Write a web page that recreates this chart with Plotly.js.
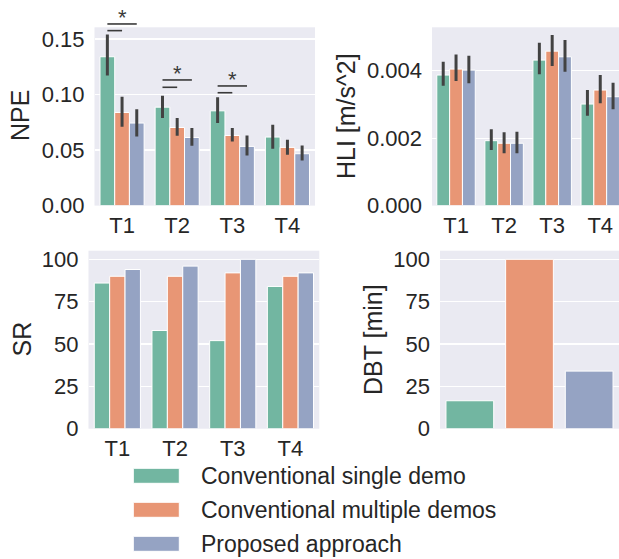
<!DOCTYPE html>
<html><head><meta charset="utf-8">
<script src="https://cdn.plot.ly/plotly-3.0.1.min.js"></script>
<style>html,body{margin:0;padding:0;background:#fff;overflow:hidden}</style>
</head><body><div id="chart" style="width:619px;height:559px"></div>
<script>
// ---------------- data ----------------
const tasks = ['T1', 'T2', 'T3', 'T4'];
const methods = ['Conventional single demo', 'Conventional multiple demos', 'Proposed approach'];

// NPE (mean, CI upper, CI lower)
const npeSingle      = [0.134, 0.0886, 0.0853, 0.0617];
const npeSingleHi    = [0.154, 0.0988, 0.0976, 0.0727];
const npeSingleLo    = [0.117, 0.0788, 0.0743, 0.0512];
const npeMultiple    = [0.0838, 0.0703, 0.0631, 0.0524];
const npeMultipleHi  = [0.098, 0.0788, 0.0698, 0.0593];
const npeMultipleLo  = [0.071, 0.0629, 0.0578, 0.0458];
const npeProposed    = [0.0743, 0.0613, 0.0533, 0.0467];
const npeProposedHi  = [0.0868, 0.0698, 0.0631, 0.0541];
const npeProposedLo  = [0.0622, 0.0539, 0.0452, 0.0407];

// HLI [m/s^2]
const hliSingle      = [0.003873, 0.001926, 0.004317, 0.003013];
const hliSingleHi    = [0.004267, 0.002264, 0.00483, 0.003428];
const hliSingleLo    = [0.003556, 0.00165, 0.0039, 0.002667];
const hliMultiple    = [0.00405, 0.001849, 0.004583, 0.003428];
const hliMultipleHi  = [0.004486, 0.002175, 0.005058, 0.003873];
const hliMultipleLo  = [0.003695, 0.001553, 0.00414, 0.003034];
const hliProposed    = [0.00402, 0.00185, 0.004415, 0.00323];
const hliProposedHi  = [0.004444, 0.002193, 0.00491, 0.003644];
const hliProposedLo  = [0.003627, 0.001553, 0.00397, 0.002856];

// SR
const srSingle   = [86, 58, 52, 84];
const srMultiple = [90, 90, 92, 90];
const srProposed = [94, 96, 100, 92];

// DBT [min]
const dbt = [16.5, 100, 34];

// significance brackets on NPE (task, short line level, long line level)
const sigTasks  = ['T1', 'T2', 'T3'];
const sigShortY = [0.1575, 0.1065, 0.1016];
const sigLongY  = [0.1635, 0.1131, 0.1077];
const sigLabel  = '*';

// ---------------- styles ----------------
const colors = ['#72b6a1', '#e89675', '#95a3c3'];
const errColor = '#424242';
const textColor = '#262626';
const W = 619, H = 559;
const px = v => v / W;
const py = v => 1 - v / H;

const dom = {
  x1: [px(94.5), px(315)],  y1: [py(205.6), py(27.3)],
  x2: [px(432), 1],         y2: [py(205.6), py(27.3)],
  x3: [px(88.5), px(319.3)], y3: [py(428.7), py(250.7)],
  x4: [px(440), 1],         y4: [py(428.7), py(250.7)]
};
const npeRange = [0, 0.1605];
const hliRange = [0, 0.00529];
const srRange = [0, 105.1];

function errs(mean, hi, lo) {
  return {
    type: 'data', symmetric: false,
    array: mean.map((m, i) => hi[i] - m),
    arrayminus: mean.map((m, i) => m - lo[i]),
    width: 0, thickness: 3, color: errColor
  };
}
function barTrace(y, k, xa, ya, err) {
  const t = {
    type: 'bar', x: tasks, y: y, name: methods[k],
    xaxis: xa, yaxis: ya, showlegend: false,
    marker: {color: colors[k], line: {color: '#ffffff', width: 1}},
    hoverinfo: 'skip'
  };
  if (err) t.error_y = err;
  return t;
}

const traces = [
  barTrace(npeSingle, 0, 'x', 'y', errs(npeSingle, npeSingleHi, npeSingleLo)),
  barTrace(npeMultiple, 1, 'x', 'y', errs(npeMultiple, npeMultipleHi, npeMultipleLo)),
  barTrace(npeProposed, 2, 'x', 'y', errs(npeProposed, npeProposedHi, npeProposedLo)),
  barTrace(hliSingle, 0, 'x2', 'y2', errs(hliSingle, hliSingleHi, hliSingleLo)),
  barTrace(hliMultiple, 1, 'x2', 'y2', errs(hliMultiple, hliMultipleHi, hliMultipleLo)),
  barTrace(hliProposed, 2, 'x2', 'y2', errs(hliProposed, hliProposedHi, hliProposedLo)),
  barTrace(srSingle, 0, 'x3', 'y3'),
  barTrace(srMultiple, 1, 'x3', 'y3'),
  barTrace(srProposed, 2, 'x3', 'y3'),
  {
    type: 'bar', x: methods, y: dbt, xaxis: 'x4', yaxis: 'y4', showlegend: false,
    marker: {color: colors, line: {color: '#ffffff', width: 1}}, hoverinfo: 'skip'
  }
];

const tickFont = {family: 'Liberation Sans, Arial, sans-serif', size: 22, color: textColor};
function xAx(domain, range, showLabels) {
  return {
    domain: domain, type: 'category', range: range,
    showgrid: false, zeroline: false, showline: false, ticks: '',
    showticklabels: showLabels, tickfont: tickFont, ticklabelstandoff: 4, fixedrange: true
  };
}
function yAx(domain, range, tickvals, fmt) {
  return {
    domain: domain, range: range, tickvals: tickvals, tickformat: fmt,
    showgrid: true, gridcolor: '#ffffff', gridwidth: 1.3, zeroline: false, showline: false,
    ticks: '', tickfont: tickFont, ticklabelstandoff: 9, fixedrange: true
  };
}

const layout = {
  width: W, height: H,
  margin: {l: 0, r: 0, t: 0, b: 0},
  paper_bgcolor: '#ffffff', plot_bgcolor: '#eaeaf2',
  font: {family: 'Liberation Sans, Arial, sans-serif', color: textColor},
  barmode: 'group', bargap: 0.2, bargroupgap: 0,
  xaxis:  Object.assign(xAx(dom.x1, [-0.5, 3.5], true), {anchor: 'y'}),
  yaxis:  Object.assign(yAx(dom.y1, npeRange, [0, 0.05, 0.1, 0.15], '.2f'), {anchor: 'x'}),
  xaxis2: Object.assign(xAx(dom.x2, [-0.5, 3.39], true), {anchor: 'y2'}),
  yaxis2: Object.assign(yAx(dom.y2, hliRange, [0, 0.002, 0.004], '.3f'), {anchor: 'x2'}),
  xaxis3: Object.assign(xAx(dom.x3, [-0.5, 3.5], true), {anchor: 'y3'}),
  yaxis3: Object.assign(yAx(dom.y3, srRange, [0, 25, 50, 75, 100], 'd'), {anchor: 'x3'}),
  xaxis4: Object.assign(xAx(dom.x4, [-0.5, 2.5], false), {anchor: 'y4'}),
  yaxis4: Object.assign(yAx(dom.y4, srRange, [0, 25, 50, 75, 100], 'd'), {anchor: 'x4'}),
  shapes: [], annotations: []
};

// axis titles
const titleFont = {family: 'Liberation Sans, Arial, sans-serif', size: 25, color: textColor};
[['NPE', 20, 116], ['HLI [m/s^2]', 346, 116], ['SR', 21, 339.5], ['DBT [min]', 372.5, 339.5]]
  .forEach(([t, x, y]) => layout.annotations.push({
    text: t, xref: 'paper', yref: 'paper', x: px(x), y: py(y),
    xanchor: 'center', yanchor: 'middle', textangle: -90, showarrow: false, font: titleFont
  }));

// significance brackets (converted from NPE data values to paper coords)
const barW = 0.8 / 3;
const npeX = v => dom.x1[0] + (v + 0.5) / 4 * (dom.x1[1] - dom.x1[0]);
const npeY = v => dom.y1[0] + (v - npeRange[0]) / (npeRange[1] - npeRange[0]) * (dom.y1[1] - dom.y1[0]);
sigTasks.forEach((t, i) => {
  const c = tasks.indexOf(t);
  const line = {type: 'line', xref: 'paper', yref: 'paper', line: {color: '#3a3a3a', width: 1.6}};
  layout.shapes.push(Object.assign({}, line, {x0: npeX(c - barW), x1: npeX(c), y0: npeY(sigShortY[i]), y1: npeY(sigShortY[i])}));
  layout.shapes.push(Object.assign({}, line, {x0: npeX(c - barW), x1: npeX(c + barW), y0: npeY(sigLongY[i]), y1: npeY(sigLongY[i])}));
  layout.annotations.push({
    text: sigLabel, xref: 'paper', yref: 'paper', x: npeX(c), y: npeY(sigLongY[i]) - 8 / H,
    xanchor: 'center', yanchor: 'bottom', showarrow: false,
    font: {family: 'Liberation Sans, Arial, sans-serif', size: 22, color: '#3a3a3a'}
  });
});

// legend (drawn manually to match seaborn's wide patches)
methods.forEach((m, i) => {
  const cy = 475.8 + i * 34;
  layout.shapes.push({
    type: 'rect', xref: 'paper', yref: 'paper',
    x0: px(133.3), x1: px(179.3), y0: py(cy - 7.5), y1: py(cy + 7.5),
    fillcolor: colors[i], line: {color: '#ffffff', width: 1}
  });
  layout.annotations.push({
    text: m, xref: 'paper', yref: 'paper', x: px(199), y: py(cy),
    xanchor: 'left', yanchor: 'middle', showarrow: false,
    font: {family: 'Liberation Sans, Arial, sans-serif', size: 23, color: textColor}
  });
});

Plotly.newPlot('chart', traces, layout, {staticPlot: true, displayModeBar: false});
</script>
</body></html>
